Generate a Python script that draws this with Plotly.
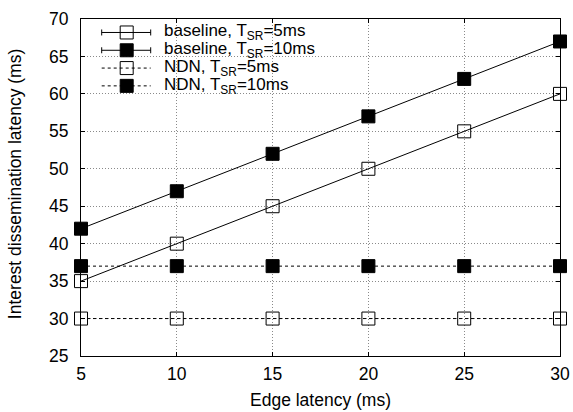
import plotly.graph_objects as go

# ---- data ----
edge_latency = [5, 10, 15, 20, 25, 30]
baseline_5ms = [35, 40, 45, 50, 55, 60]
baseline_10ms = [42, 47, 52, 57, 62, 67]
ndn_5ms = [30, 30, 30, 30, 30, 30]
ndn_10ms = [37, 37, 37, 37, 37, 37]

series_labels = [
    "baseline, T<sub>SR</sub>=5ms",
    "baseline, T<sub>SR</sub>=10ms",
    "NDN, T<sub>SR</sub>=5ms",
    "NDN, T<sub>SR</sub>=10ms",
]
x_ticks = [5, 10, 15, 20, 25, 30]
y_ticks = [25, 30, 35, 40, 45, 50, 55, 60, 65, 70]
x_title = "Edge latency (ms)"
y_title = "Interest dissemination latency (ms)"

FONT = "Liberation Sans, Arial, Helvetica, sans-serif"

series = [
    (baseline_5ms, "solid", "square-open"),
    (baseline_10ms, "solid", "square"),
    (ndn_5ms, "3px,3px", "square-open"),
    (ndn_10ms, "3px,3px", "square"),
]

fig = go.Figure()
for (vals, dash, sym), name in zip(series, series_labels):
    fig.add_trace(go.Scatter(
        x=edge_latency, y=vals, name=name, mode="lines+markers",
        line=dict(color="black", width=1, dash=dash),
        marker=dict(symbol=sym, size=13, color="black",
                    line=dict(color="black", width=1)),
        cliponaxis=False, showlegend=False,
    ))

shapes = []
# white key background hiding grid lines
shapes.append(dict(type="rect", xref="paper", yref="paper", layer="between",
                   x0=0.0188, x1=0.4530, y0=0.7685, y1=1.0,
                   line=dict(width=0), fillcolor="white"))
shapes.append(dict(type="rect", xref="paper", yref="paper", layer="between",
                   x0=0.4530, x1=0.4948, y0=0.8724, y1=1.0,
                   line=dict(width=0), fillcolor="white"))

annotations = []
key_x0, key_x1, key_xm, key_xt = 0.0432, 0.1455, 0.0954, 0.1691
key_rows = [0.9600, 0.9072, 0.8544, 0.8016]
for (vals, dash, sym), name, yk in zip(series, series_labels, key_rows):
    shapes.append(dict(type="line", xref="paper", yref="paper",
                       x0=key_x0, x1=key_x1, y0=yk, y1=yk,
                       line=dict(color="black", width=1, dash=dash)))
    if dash == "solid":
        for xc in (key_x0, key_x1):
            shapes.append(dict(type="line", xref="paper", yref="paper",
                               xsizemode="pixel", xanchor=xc, x0=0, x1=0,
                               ysizemode="pixel", yanchor=yk, y0=-3, y1=3,
                               line=dict(color="black", width=1)))
    filled = sym == "square"
    shapes.append(dict(type="rect", xref="paper", yref="paper",
                       xsizemode="pixel", xanchor=key_xm, x0=-6.5, x1=6.5,
                       ysizemode="pixel", yanchor=yk, y0=-6.5, y1=6.5,
                       line=dict(color="black", width=1),
                       fillcolor="black" if filled else "rgba(0,0,0,0)"))
    annotations.append(dict(xref="paper", yref="paper", x=key_xt, y=yk,
                            text=name, showarrow=False, xanchor="left",
                            yanchor="middle", font=dict(size=17, family=FONT)))

# axis titles
annotations.append(dict(xref="paper", yref="paper", x=0.5, y=0, yshift=-44,
                        text=x_title, showarrow=False, xanchor="center",
                        yanchor="middle", font=dict(size=17.5, family=FONT)))
annotations.append(dict(xref="paper", yref="paper", x=0, xshift=-66, y=0.51,
                        text=y_title, showarrow=False, textangle=-90,
                        xanchor="center", yanchor="middle",
                        font=dict(size=17.5, family=FONT)))

axis_common = dict(
    showline=True, linecolor="black", linewidth=1, mirror="ticks",
    ticks="inside", ticklen=4, tickcolor="black", tickwidth=1,
    showgrid=True, gridcolor="#8a8a8a", gridwidth=1, griddash="1px,2px",
    zeroline=False, automargin=False,
    tickfont=dict(size=17.5, family=FONT, color="black"),
)

fig.update_layout(
    width=573, height=412,
    margin=dict(l=81, r=13, t=19, b=56),
    plot_bgcolor="white", paper_bgcolor="white",
    font=dict(family=FONT, size=17.5, color="black"),
    xaxis=dict(range=[5, 30], tickvals=x_ticks, ticklabelstandoff=2,
               **axis_common),
    yaxis=dict(range=[25, 70], tickvals=y_ticks, ticklabelstandoff=8,
               **axis_common),
    shapes=shapes, annotations=annotations,
)

fig.write_html("out.html",
               config={"displayModeBar": False, "staticPlot": True},
               post_script="document.body.style.margin='0';"
                           "document.body.style.overflow='hidden';")
